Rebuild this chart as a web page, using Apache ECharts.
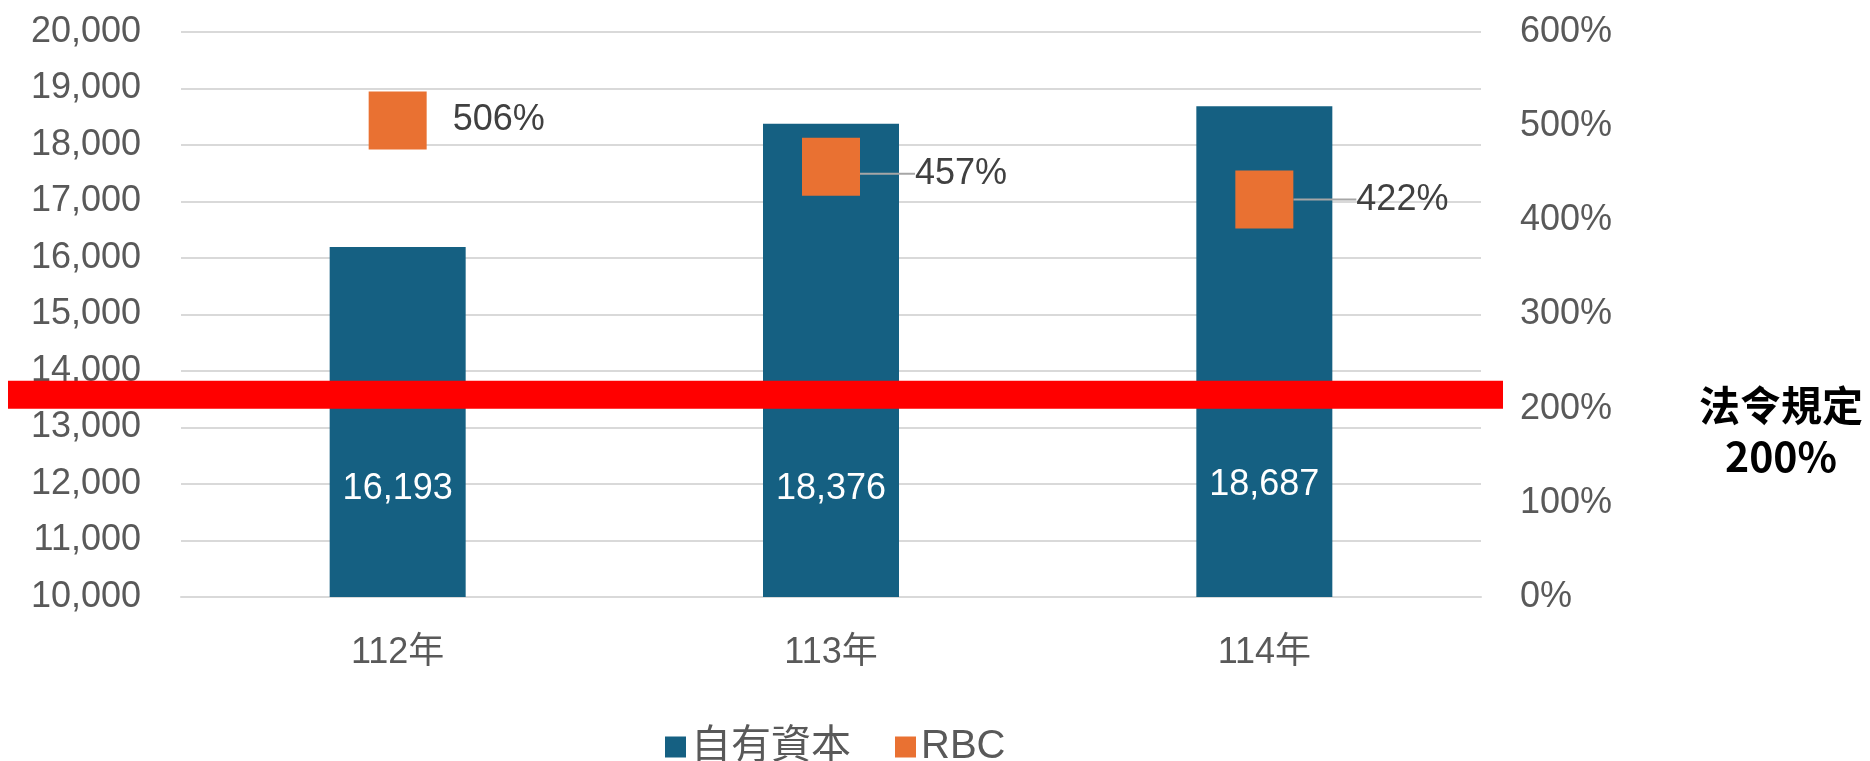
<!DOCTYPE html>
<html>
<head>
<meta charset="utf-8">
<script src="https://cdn.jsdelivr.net/npm/echarts@6/dist/echarts.min.js"></script>
<style>
html,body{margin:0;padding:0;background:#fff;}
#chart{width:1870px;height:761px;}
</style>
</head>
<body>
<div id="chart"></div>
<script>
const categories = ['112年', '113年', '114年'];
const capitalValues = [16193, 18376, 18687];
const rbcValues = [506, 457, 422];
const seriesNames = ['自有資本', 'RBC'];
const legalMinimum = 200;
const legalNote = '法令規定\n200%';

const FONT = "'Liberation Sans', Arial, 'Noto Sans CJK TC', sans-serif";
const GRAY = '#595959';

const chart = echarts.init(document.getElementById('chart'), null, {renderer: 'canvas'});

const labelDx = [0, 29, 37];
const labelDy = [0, 7, 0];
const barLabelDist = [90, 90, 94];

const option = {
  animation: false,
  backgroundColor: '#ffffff',
  grid: {left: 181, right: 389, top: 32, bottom: 164, containLabel: false},
  legend: {
    top: 722, left: 660,
    itemWidth: 21, itemHeight: 21, itemGap: 44,
    icon: 'rect',
    textStyle: {fontSize: 40, color: GRAY, fontFamily: FONT, padding: [0, 0, 0, 0]},
    data: seriesNames
  },
  xAxis: {
    type: 'category',
    data: categories,
    axisLine: {show: true, lineStyle: {color: '#d9d9d9', width: 2}},
    axisTick: {show: false},
    axisLabel: {fontSize: 36, color: GRAY, fontFamily: FONT, margin: 38}
  },
  yAxis: [
    {
      type: 'value', min: 10000, max: 20000, interval: 1000,
      axisLine: {show: false}, axisTick: {show: false},
      splitLine: {lineStyle: {color: '#d9d9d9', width: 2}},
      axisLabel: {fontSize: 36, color: GRAY, fontFamily: FONT, margin: 40,
        formatter: v => v.toLocaleString('en-US')}
    },
    {
      type: 'value', min: 0, max: 600, interval: 100,
      axisLine: {show: false}, axisTick: {show: false},
      splitLine: {show: false},
      axisLabel: {fontSize: 36, color: GRAY, fontFamily: FONT, margin: 39,
        formatter: v => v + '%'}
    }
  ],
  series: [
    {
      name: seriesNames[0],
      type: 'bar',
      yAxisIndex: 0,
      barWidth: 136,
      itemStyle: {color: '#156082'},
      data: capitalValues.map((v, i) => ({
        value: v,
        label: {distance: barLabelDist[i]}
      })),
      label: {
        show: true, position: 'insideBottom', distance: 90,
        color: '#ffffff', fontSize: 36, fontFamily: FONT,
        formatter: p => p.value.toLocaleString('en-US')
      },
      z: 2
    },
    {
      name: seriesNames[1],
      type: 'scatter',
      yAxisIndex: 1,
      symbol: 'rect',
      symbolSize: 58,
      itemStyle: {color: '#E97132', opacity: 1},
      data: rbcValues.map((v, i) => ({
        value: v,
        labelLine: {show: i > 0}
      })),
      label: {
        show: true, position: 'right', distance: 26,
        color: '#404040', fontSize: 36, fontFamily: FONT,
        formatter: p => p.value + '%'
      },
      labelLine: {show: true, lineStyle: {color: '#a6a6a6', width: 2}},
      labelLayout: p => ({dx: labelDx[p.dataIndex], dy: labelDy[p.dataIndex]}),
      z: 3
    }
  ]
};

chart.setOption(option);

const yBase = chart.convertToPixel({yAxisIndex: 1}, legalMinimum);
chart.setOption({
  graphic: [
    {
      type: 'rect', z: 100,
      shape: {x: 8, y: yBase - 28, width: 1495, height: 28},
      style: {fill: '#ff0000'}
    },
    {
      type: 'text', z: 100,
      x: 1781, y: yBase + 22,
      style: {
        text: legalNote, fill: '#000000',
        font: "bold 41px 'Noto Sans CJK TC', sans-serif",
        align: 'center', verticalAlign: 'middle', lineHeight: 51
      }
    }
  ]
});
</script>
</body>
</html>
